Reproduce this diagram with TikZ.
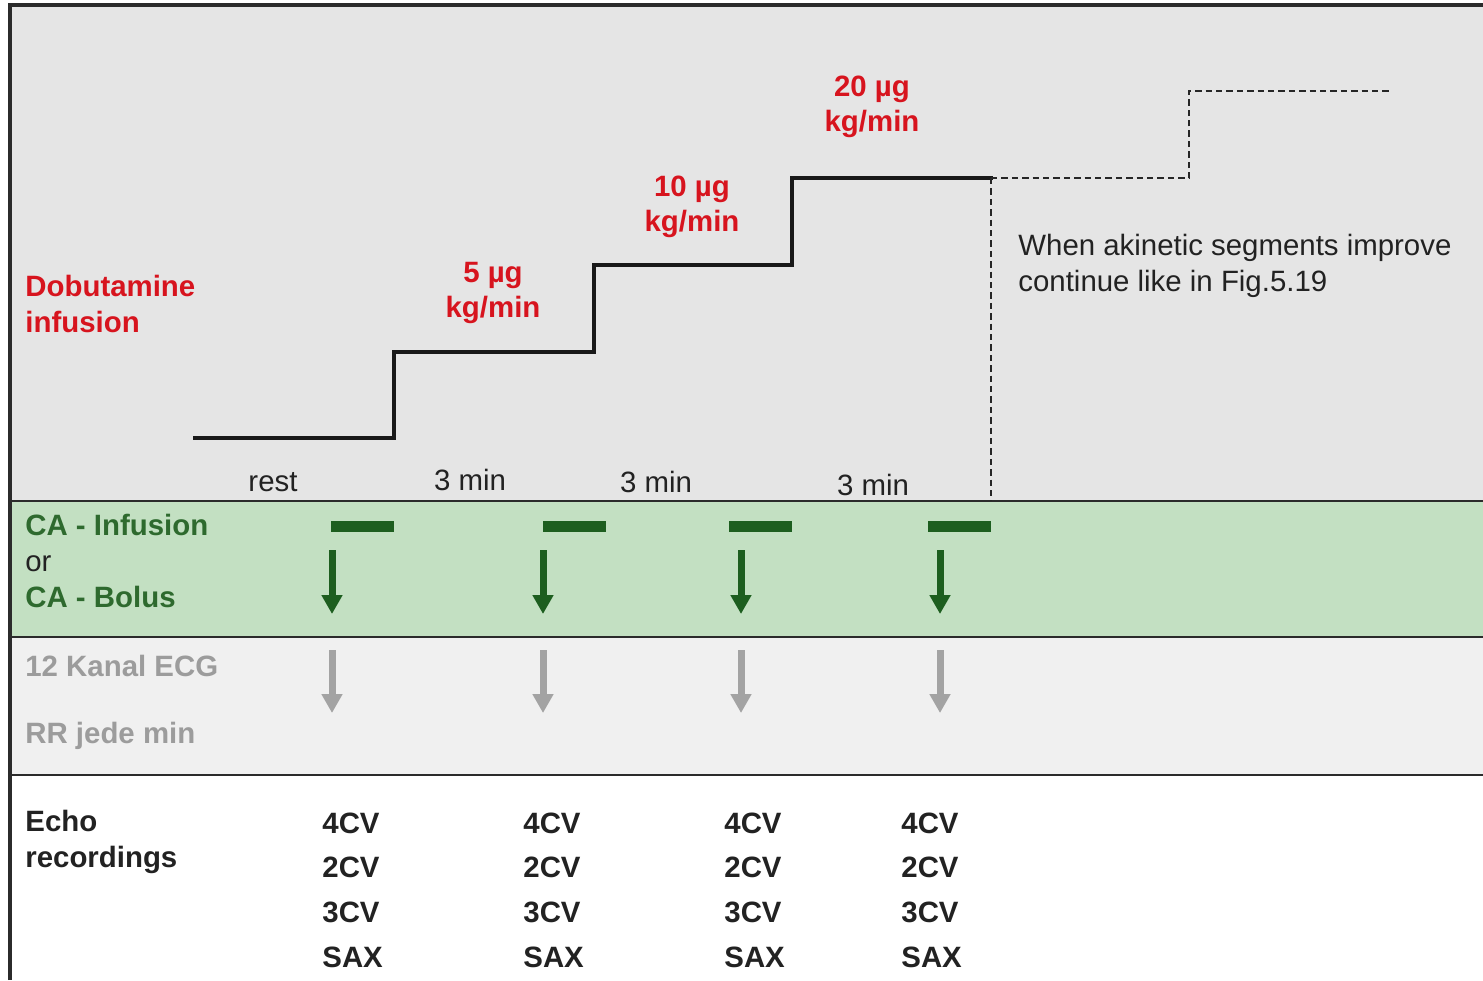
\documentclass[tikz,border=0pt]{standalone}
\usepackage{fontspec}
\setmainfont{Liberation Sans}
\usetikzlibrary{arrows.meta,positioning}
\definecolor{dobred}{HTML}{D7141E}
\definecolor{cagreen}{HTML}{2E6A2E}
\definecolor{cadark}{HTML}{1D5E1F}
\definecolor{bandgreen}{HTML}{C3E0C2}
\definecolor{topgray}{HTML}{E5E5E5}
\definecolor{ecgband}{HTML}{F0F0F0}
\definecolor{ecgarrow}{HTML}{A3A3A3}
\definecolor{ecgtext}{HTML}{9C9C9C}
\definecolor{framegray}{HTML}{2B2B2B}
\definecolor{inkgray}{HTML}{222222}

\begin{document}
\begin{tikzpicture}[x=0.5pt, y=-0.5pt,
      txt/.style     = {font=\fontsize{14.7}{18}\selectfont, text=inkgray, inner sep=0pt},
      rowlbl/.style  = {txt, font=\fontsize{14.7}{18}\selectfont\bfseries, align=left, anchor=west},
      dose/.style    = {txt, font=\fontsize{14.7}{17.5}\selectfont\bfseries, text=dobred, align=center},
      views/.style   = {txt, font=\fontsize{14.7}{22.3}\selectfont\bfseries, align=left, anchor=west},
      sep/.style     = {framegray, line width=1.4pt},
      stair/.style   = {black!90, line width=2.4pt, line cap=rect},
      cont/.style    = {black!85, line width=1.4pt, dash pattern=on 3.2pt off 2pt},
      cabar/.style   = {cadark, line width=5.5pt},
      caarr/.style   = {cadark, line width=3.5pt, -{Triangle[width=10pt, length=9.5pt]}},
      ecgarr/.style  = {ecgarrow, line width=3.5pt, -{Triangle[width=10pt, length=9.5pt]}},
    ]
    \useasboundingbox (0,0) rectangle (1483,980);

    % ---- bands ----
    \fill[topgray]   (10,5)   rectangle (1483,501);
    \fill[bandgreen] (10,501) rectangle (1483,637);
    \fill[ecgband]   (10,637) rectangle (1483,775);
    \fill[white]     (10,775) rectangle (1483,980);
    \draw[sep] (10,501) -- (1483,501);
    \draw[sep] (10,637) -- (1483,637);
    \draw[sep] (10,775) -- (1483,775);
    \draw[framegray, line width=1.6pt] (10,980) -- (10,5) -- (1483,5);

    % ---- Dobutamine steps ----
    \draw[stair] (195,438) -- (394,438) -- (394,352) -- (594,352)
                 -- (594,265) -- (792,265) -- (792,178) -- (991,178);
    \draw[cont] (991,178) -- (1189,178) -- (1189,91) -- (1390,91);
    \draw[cont] (991,178) -- (991,501);

    \node[rowlbl, text=dobred] (dob) at (25,304) {Dobutamine\\infusion};
    \node[dose] (d5)  at (493,293) {5 µg\\kg/min};
    \node[dose] (d10) at (692,207) {10 µg\\kg/min};
    \node[dose] (d20) at (872,107) {20 µg\\kg/min};

    \node[txt] (trest) at (273,482) {rest};
    \node[txt] (t1)    at (470,480) {3 min};
    \node[txt] (t2)    at (656,482) {3 min};
    \node[txt] (t3)    at (873,485) {3 min};

    \node[txt, align=left, anchor=west] (note) at (1018,266)
      {When akinetic segments improve\\continue like in Fig.5.19};

    % ---- contrast agent row ----
    \node[rowlbl, text=cagreen] (ca) at (25,561)
      {CA - Infusion\\{\mdseries\color{inkgray}or}\\CA - Bolus};

    \draw[cabar] (331,526) -- (394,526);
    \draw[cabar] (543,526) -- (606,526);
    \draw[cabar] (729,526) -- (792,526);
    \draw[cabar] (928,526) -- (991,526);

    \foreach \x [count=\i] in {332,543,741,940} {
      \coordinate (cas\i) at (\x,550);
      \coordinate (cae\i) at (\x,614);
      \coordinate (ecs\i) at (\x,650);
      \coordinate (ece\i) at (\x,713);
      \draw[caarr]  (cas\i) -- (cae\i);
      \draw[ecgarr] (ecs\i) -- (ece\i);
    }

    % ---- ECG row ----
    \node[rowlbl, text=ecgtext] (ecg) at (25,666) {12 Kanal ECG};
    \node[rowlbl, text=ecgtext] (rr)  at (25,736) {RR jede min};

    % ---- Echo row ----
    \node[rowlbl] (echo) at (25,842) {Echo\\recordings};
    \node[views] (v1) at (322,890) {4CV\\2CV\\3CV\\SAX};
    \node[views] (v2) at (523,890) {4CV\\2CV\\3CV\\SAX};
    \node[views] (v3) at (724,890) {4CV\\2CV\\3CV\\SAX};
    \node[views] (v4) at (901,890) {4CV\\2CV\\3CV\\SAX};
  \end{tikzpicture}
\end{document}
